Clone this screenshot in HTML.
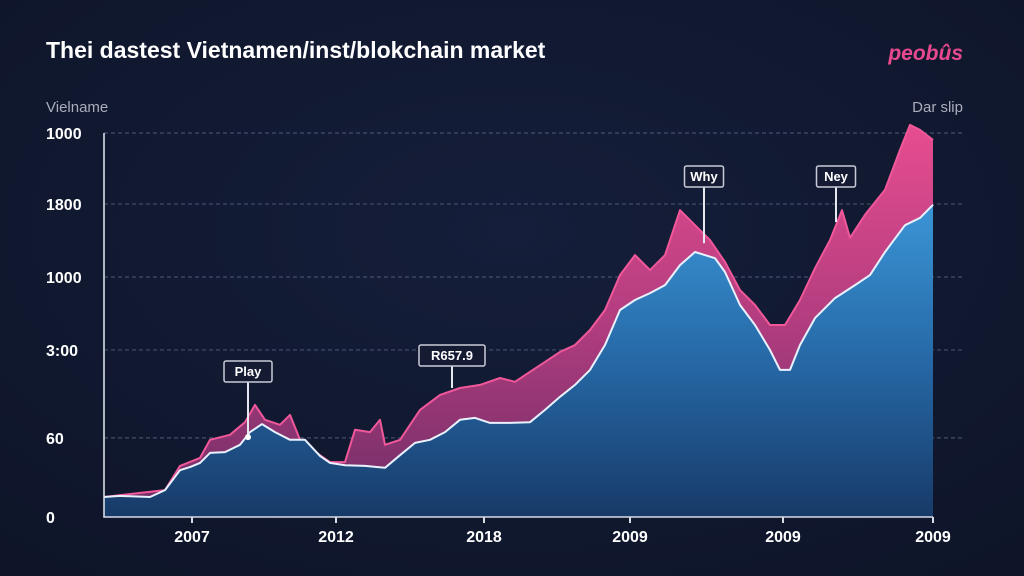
<!DOCTYPE html>
<html><head><meta charset="utf-8"><style>
html,body{margin:0;padding:0;width:1024px;height:576px;overflow:hidden;background:#111a31;}
svg{display:block;font-family:"Liberation Sans",sans-serif;}
</style></head><body>
<svg id="chart" width="1024" height="576" viewBox="0 0 1024 576">
<defs>
<radialGradient id="bg" cx="50%" cy="40%" r="75%"><stop offset="0" stop-color="#151e3a"/><stop offset="1" stop-color="#0e1529"/></radialGradient>
<linearGradient id="blueG" x1="0" y1="0" x2="0" y2="1"><stop offset="0" stop-color="#3b95d6"/><stop offset="0.5" stop-color="#2668a6"/><stop offset="1" stop-color="#173a68"/></linearGradient>
<linearGradient id="pinkG" x1="0" y1="0" x2="0" y2="1"><stop offset="0" stop-color="#e74d90"/><stop offset="0.5" stop-color="#b23d7f"/><stop offset="1" stop-color="#6e2d66"/></linearGradient>
</defs>
<rect width="1024" height="576" fill="url(#bg)"/>
<text x="46" y="58" fill="#ffffff" font-size="23" font-weight="bold">Thei dastest Vietnamen/inst/blokchain market</text>
<text x="963" y="60" fill="#e8498e" font-size="21" font-weight="bold" font-style="italic" text-anchor="end">peobûs</text>
<text x="46" y="112" fill="#a9adbd" font-size="15">Vielname</text>
<text x="963" y="112" fill="#a9adbd" font-size="15" text-anchor="end">Dar slip</text>
<g id="grid"></g><g id="areas"></g><g id="axes"></g><g id="notes"></g>
</svg>
<script>
const yTickValues=[0,20.6,43.5,62.5,81.5,100];
const yTickLabels=["0","60","3:00","1000","1800","1000"];
const xTickValues=[88,232,380,526,679,829];
const xTickLabels=["2007","2012","2018","2009","2009","2009"];
const blueTime=[0,16,46,61,76,86,96,106,121,136,146,158,171,186,201,216,226,241,261,281,296,311,326,341,356,371,386,406,426,441,456,471,486,501,516,531,546,561,576,591,611,621,636,651,666,676,686,696,711,731,751,766,781,801,816,829];
const blueValues=[5.2,5.5,5.2,7.0,12.2,13.0,14.1,16.7,16.9,18.8,22.1,24.2,22.1,20.1,20.1,15.9,14.1,13.5,13.3,12.8,16.1,19.3,20.1,22.1,25.3,25.8,24.5,24.5,24.7,27.9,31.3,34.4,38.3,44.8,53.9,56.5,58.3,60.4,65.6,69.0,67.4,63.8,55.2,50.0,43.5,38.3,38.3,44.8,51.8,57.0,60.4,63.0,69.0,76.0,77.9,81.3];
const pinkTime=[0,61,76,96,106,126,141,151,161,176,186,196,216,226,241,251,266,276,281,296,316,336,356,376,396,411,426,441,456,471,486,501,516,531,546,561,576,591,606,621,636,651,666,681,696,711,726,738,746,761,781,796,806,816,829];
const pinkValues=[5.2,7.0,13.3,15.4,20.1,21.4,24.7,29.2,25.3,24.0,26.6,20.1,16.1,14.3,14.3,22.7,22.1,25.3,18.8,20.1,27.9,31.8,33.6,34.4,36.2,35.2,37.8,40.4,43.0,44.8,48.7,53.9,63.0,68.2,64.3,68.2,79.9,76.0,72.1,66.4,59.1,55.2,50.0,50.0,56.5,64.8,72.1,79.9,72.7,78.7,85.2,95.6,102.1,100.8,98.2];
const noteLabels=["Play","R657.9","Why","Ney"];
const noteTime=[144,348,600,732];
const noteValues=[20.8,33.6,71.3,76.8];

const X0=104,X1=933,Y0=517,Y1=133;
const xs=t=>X0+t/829*(X1-X0);
const ys=v=>Y0-v/100*(Y0-Y1);
const NS="http://www.w3.org/2000/svg";
function mk(tag,attrs,parent){const e=document.createElementNS(NS,tag);for(const k in attrs)e.setAttribute(k,attrs[k]);parent.appendChild(e);return e;}
const grid=document.getElementById('grid'),areas=document.getElementById('areas'),axes=document.getElementById('axes'),notes=document.getElementById('notes');

yTickValues.forEach((v,i)=>{
  if(v>0){const l=mk('line',{x1:X0,x2:963,y1:ys(v),y2:ys(v),stroke:'#454e6b','stroke-width':1.2,'stroke-dasharray':'4 3'},grid);
  
  }
  const t=mk('text',{x:46,y:ys(v)+6,fill:'#ffffff','font-size':16,'font-weight':'bold'},axes);t.textContent=yTickLabels[i];
  
  
});

function linePts(T,V){return T.map((t,i)=>xs(t).toFixed(1)+','+ys(V[i]).toFixed(1)).join(' L');}
function area(T,V,fill,stroke,name){
  const d='M'+linePts(T,V)+' L'+xs(T[T.length-1])+','+Y0+' L'+xs(T[0])+','+Y0+' Z';
  const a=mk('path',{d:d,fill:fill},areas);
  
  
  const l=mk('path',{d:'M'+linePts(T,V),fill:'none',stroke:stroke,'stroke-width':2,'stroke-linejoin':'round'},areas);
  
  
}
area(pinkTime,pinkValues,'url(#pinkG)','#f0589a','pink-series');
area(blueTime,blueValues,'url(#blueG)','#e8f2ff','blue-series');

let ax=mk('path',{d:`M${X0},${Y1} L${X0},${Y0} L${X1},${Y0}`,fill:'none',stroke:'#d8dce6','stroke-width':1.6},axes);


xTickValues.forEach((t,i)=>{
  const tk=mk('line',{x1:xs(t),x2:xs(t),y1:Y0,y2:Y0+6,stroke:'#d8dce6','stroke-width':2},axes);
  
  
  const tx=mk('text',{x:xs(t),y:542,fill:'#ffffff','font-size':16,'font-weight':'bold','text-anchor':'middle'},axes);
  tx.textContent=xTickLabels[i];
  
  
});

noteLabels.forEach((lab,i)=>{
  const x=xs(noteTime[i]),y=ys(noteValues[i]);
  const by=i==0?361:(i==1?345:166);
  const w=lab.length*9+12;
  const g=mk('g',{},notes);
  
  
  mk('line',{x1:x,x2:x,y1:by+21,y2:y,stroke:'#e6e8ef','stroke-width':2},g);
  if(i==0)mk('circle',{cx:x,cy:y,r:3,fill:'#ffffff'},g);
  mk('rect',{x:x-w/2,y:by,width:w,height:21,rx:2,fill:'#141b33',stroke:'#c9ccd8','stroke-width':1.5},g);
  const t=mk('text',{x:x,y:by+15,fill:'#ffffff','font-size':13,'font-weight':'bold','text-anchor':'middle'},g);
  t.textContent=lab;
});
</script>
</body></html>
